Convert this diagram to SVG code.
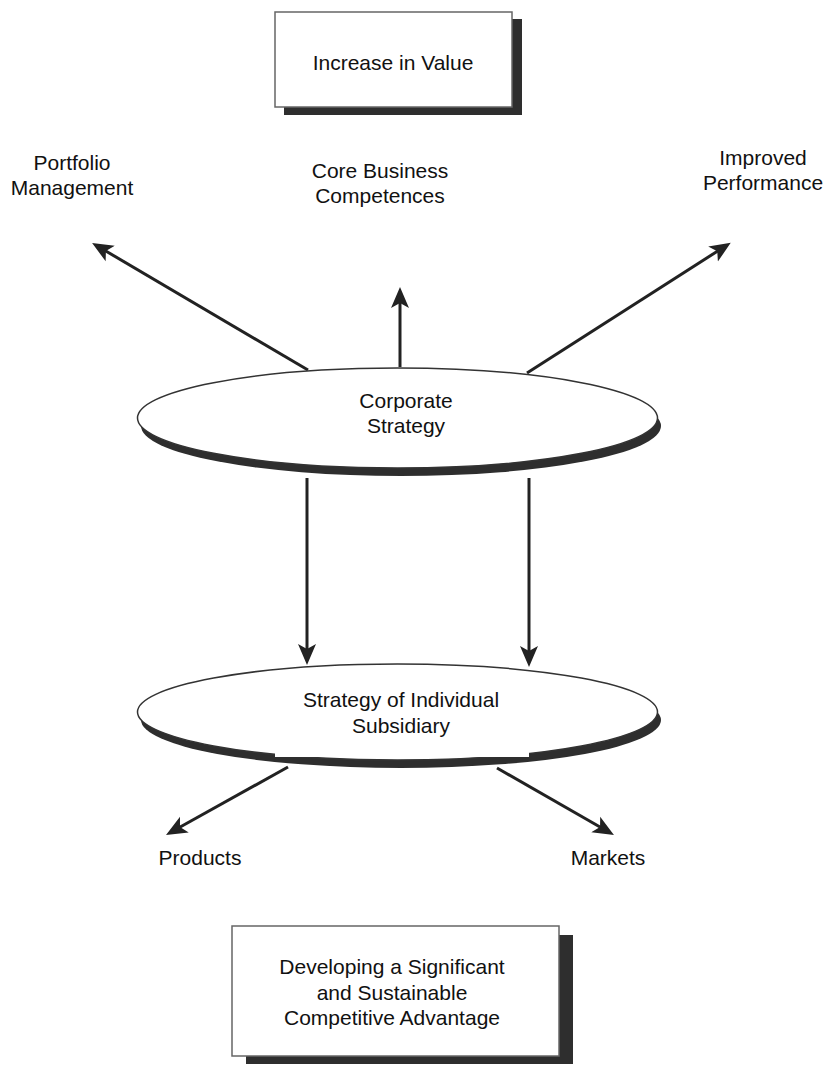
<svg xmlns="http://www.w3.org/2000/svg" width="825" height="1068" viewBox="0 0 825 1068">
  <defs>
    <style>
      .lbl { font-family: "Liberation Sans", Arial, sans-serif; font-size: 21px; fill: #111; text-anchor: middle; }
      .box { fill: #fff; stroke: #666; stroke-width: 1.5; }
      .shadow { fill: #2e2e2e; }
      .oval { fill: #fff; stroke: #333; stroke-width: 1.5; }
      .conn { stroke: #222; stroke-width: 3; fill: none; marker-end: url(#head); }
    </style>
    <marker id="head" markerUnits="userSpaceOnUse" markerWidth="22" markerHeight="20" viewBox="0 0 22 20" refX="13" refY="10" orient="auto">
      <path d="M0,1 L21,10 L0,19 L5,10 Z" fill="#222"/>
    </marker>
  </defs>
  <rect width="825" height="1068" fill="#fff"/>

  <!-- top result box -->
  <g id="increase-in-value">
    <rect class="shadow" x="284" y="19" width="238" height="96"/>
    <rect class="box" x="275" y="12" width="237" height="95"/>
    <text class="lbl" x="393" y="70">Increase in Value</text>
  </g>

  <!-- outcome labels -->
  <g id="portfolio-management">
    <text class="lbl" x="72" y="170">Portfolio</text>
    <text class="lbl" x="72" y="195">Management</text>
  </g>
  <g id="core-business-competences">
    <text class="lbl" x="380" y="178">Core Business</text>
    <text class="lbl" x="380" y="203">Competences</text>
  </g>
  <g id="improved-performance">
    <text class="lbl" x="763" y="165">Improved</text>
    <text class="lbl" x="763" y="190">Performance</text>
  </g>

  <!-- connectors -->
  <g id="connectors">
    <line class="conn" x1="308" y1="370" x2="99" y2="247"/>
    <line class="conn" x1="400" y1="367" x2="400" y2="295"/>
    <line class="conn" x1="527" y1="373" x2="724" y2="247"/>
    <line class="conn" x1="307" y1="478" x2="307" y2="657"/>
    <line class="conn" x1="529" y1="478" x2="529" y2="659"/>
    <line class="conn" x1="288" y1="767" x2="173" y2="831"/>
    <line class="conn" x1="497" y1="768" x2="607" y2="831"/>
  </g>

  <!-- corporate level -->
  <g id="corporate-strategy">
    <ellipse class="shadow" cx="401" cy="426" rx="260" ry="50"/>
    <ellipse class="oval" cx="397.5" cy="418" rx="260" ry="50"/>
    <text class="lbl" x="406" y="408">Corporate</text>
    <text class="lbl" x="406" y="433">Strategy</text>
  </g>

  <!-- subsidiary level -->
  <g id="subsidiary-strategy">
    <ellipse class="shadow" cx="401" cy="720" rx="260" ry="48"/>
    <ellipse class="oval" cx="397.5" cy="712" rx="260" ry="48"/>
    <rect x="275" y="735" width="254" height="22" fill="#fff"/>
    <text class="lbl" x="401" y="707">Strategy of Individual</text>
    <text class="lbl" x="401" y="733">Subsidiary</text>
  </g>

  <g id="products">
    <text class="lbl" x="200" y="865">Products</text>
  </g>
  <g id="markets">
    <text class="lbl" x="608" y="865">Markets</text>
  </g>

  <!-- bottom result box -->
  <g id="competitive-advantage">
    <rect class="shadow" x="246" y="935" width="327" height="129"/>
    <rect class="box" x="232" y="926" width="327" height="130"/>
    <text class="lbl" x="392" y="974">Developing a Significant</text>
    <text class="lbl" x="392" y="1000">and Sustainable</text>
    <text class="lbl" x="392" y="1025">Competitive Advantage</text>
  </g>
</svg>
